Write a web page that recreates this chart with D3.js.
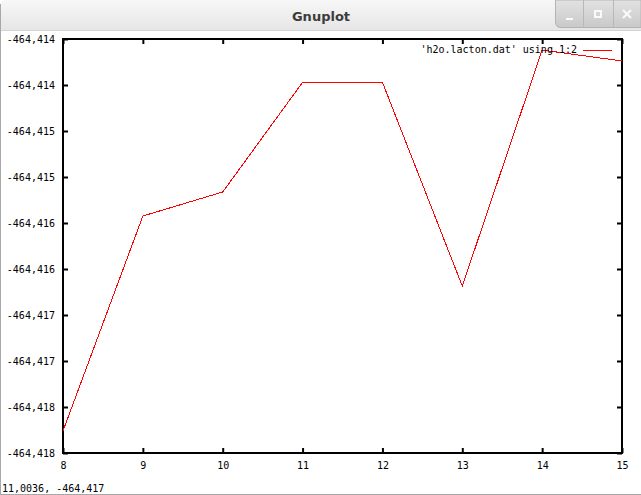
<!DOCTYPE html>
<html>
<head>
<meta charset="utf-8">
<script src="https://cdn.jsdelivr.net/npm/d3@7"></script>
<style>
  body { margin: 0; background: #fff; }
  text { font-family: "DejaVu Sans Mono", monospace; font-size: 10px; fill: #000; }
</style>
</head>
<body>
<div id="chart"></div>
<script>
const xValues = [8, 9, 10, 11, 12, 13, 14, 15];
const energies = [-464.41826, -464.415924, -464.415663, -464.414471, -464.414471, -464.416685, -464.41412, -464.414239];
const xTicks = [8, 9, 10, 11, 12, 13, 14, 15];
const yTicks = [-464.414, -464.4145, -464.415, -464.4155, -464.416, -464.4165, -464.417, -464.4175, -464.418, -464.4185];
const yTickLabels = ["-464,414", "-464,414", "-464,415", "-464,415", "-464,416", "-464,416", "-464,417", "-464,417", "-464,418", "-464,418"];
const legendLabel = "'h2o.lacton.dat' using 1:2";
const statusText = "11,0036, -464,417";

const width = 641, height = 495;
const plotLeft = 63, plotRight = 622, plotTop = 39, plotBottom = 453;

const svg = d3.select("#chart").append("svg")
  .attr("width", width)
  .attr("height", height);

// window chrome
const defs = svg.append("defs");
const tg = defs.append("linearGradient").attr("id", "titlegrad").attr("x1", 0).attr("y1", 0).attr("x2", 0).attr("y2", 1);
tg.append("stop").attr("offset", "0%").attr("stop-color", "#f7f7f7");
tg.append("stop").attr("offset", "100%").attr("stop-color", "#e6e6e6");
const bg = defs.append("linearGradient").attr("id", "btngrad").attr("x1", 0).attr("y1", 0).attr("x2", 0).attr("y2", 1);
bg.append("stop").attr("offset", "0%").attr("stop-color", "#e2e2e2");
bg.append("stop").attr("offset", "100%").attr("stop-color", "#c9c9c9");

svg.append("path")
  .attr("d", "M0,30 V6 Q0,0 6,0 H641 V30 Z")
  .attr("fill", "url(#titlegrad)");
svg.append("line").attr("x1", 0).attr("x2", width).attr("y1", 30.5).attr("y2", 30.5)
  .attr("stroke", "#d4d4d4");
svg.append("line").attr("x1", 0.5).attr("x2", 0.5).attr("y1", 4).attr("y2", 495)
  .attr("stroke", "#a8a8a8");
svg.append("text")
  .attr("x", 321).attr("y", 21)
  .attr("text-anchor", "middle")
  .style("font-family", "'DejaVu Sans', sans-serif")
  .style("font-size", "13px")
  .style("font-weight", "bold")
  .style("fill", "#3c3c3c")
  .text("Gnuplot");

svg.append("path")
  .attr("d", "M555.5,0 V22 Q555.5,27.5 561,27.5 H641 V0 Z")
  .attr("fill", "url(#btngrad)")
  .attr("stroke", "#b4b4b4");
[583.5, 613.5].forEach(function (x) {
  svg.append("line").attr("x1", x).attr("x2", x).attr("y1", 0).attr("y2", 27)
    .attr("stroke", "#b8b8b8");
});
const ic = svg.append("g").attr("stroke", "#fafafa").attr("fill", "none").attr("stroke-width", 2);
ic.append("line").attr("x1", 566).attr("x2", 573).attr("y1", 19).attr("y2", 19);
ic.append("rect").attr("x", 595).attr("y", 11).attr("width", 6).attr("height", 6);
ic.append("line").attr("x1", 623).attr("x2", 631).attr("y1", 10).attr("y2", 18);
ic.append("line").attr("x1", 631).attr("x2", 623).attr("y1", 10).attr("y2", 18);

svg.append("line").attr("x1", 0).attr("x2", width).attr("y1", 494.5).attr("y2", 494.5)
  .attr("stroke", "#a8a8a8");
svg.append("text").attr("x", 2).attr("y", 492).text(statusText);

// plot
let x = d3.scaleLinear().domain([8, 15]).range([plotLeft, plotRight]);
let y = d3.scaleLinear().domain([-464.4185, -464.414]).range([plotBottom, plotTop]);

function styleAxis(g) {
  g.select(".domain").remove();
  g.selectAll(".tick line").attr("stroke", "#000").attr("stroke-width", 2);
  g.selectAll(".tick text").style("font-family", "'DejaVu Sans Mono', monospace").style("font-size", "10px");
}

svg.append("g")
  .attr("transform", "translate(" + plotLeft + ",0)")
  .call(d3.axisLeft(y).tickValues(yTicks).tickSize(-5).tickPadding(8)
    .tickFormat(function (d, i) { return yTickLabels[i]; }))
  .call(styleAxis);
svg.append("g")
  .attr("transform", "translate(" + plotRight + ",0)")
  .call(d3.axisRight(y).tickValues(yTicks).tickSize(-5).tickFormat(""))
  .call(styleAxis);
svg.append("g")
  .attr("transform", "translate(0," + plotBottom + ")")
  .call(d3.axisBottom(x).tickValues(xTicks).tickSize(-5).tickPadding(9).tickFormat(d3.format("d")))
  .call(styleAxis);
svg.append("g")
  .attr("transform", "translate(0," + plotTop + ")")
  .call(d3.axisTop(x).tickValues(xTicks).tickSize(-5).tickFormat(""))
  .call(styleAxis);

svg.append("rect")
  .attr("x", plotLeft).attr("y", plotTop)
  .attr("width", plotRight - plotLeft).attr("height", plotBottom - plotTop)
  .attr("fill", "none")
  .attr("stroke", "#000")
  .attr("stroke-width", 2);

let line = d3.line()
  .x(function (d, i) { return x(xValues[i]); })
  .y(function (d) { return y(d); });

svg.append("path")
  .datum(energies)
  .attr("d", line)
  .attr("fill", "none")
  .attr("stroke", "#ff0000")
  .attr("stroke-width", 1)
  .attr("shape-rendering", "crispEdges");

// legend
svg.append("text")
  .attr("x", 577).attr("y", 53)
  .attr("text-anchor", "end")
  .text(legendLabel);
svg.append("line")
  .attr("x1", 583).attr("x2", 612).attr("y1", 50.5).attr("y2", 50.5)
  .attr("stroke", "#ff0000");
</script>
</body>
</html>
